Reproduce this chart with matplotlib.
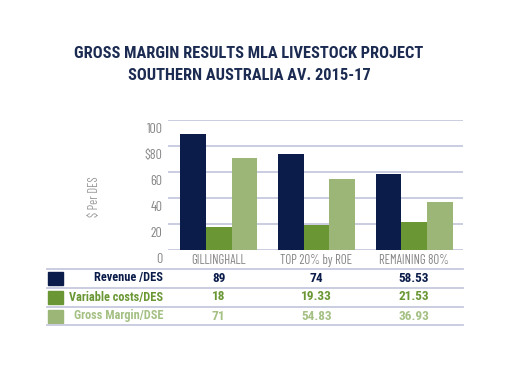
import matplotlib.pyplot as plt
import matplotlib.transforms as mtransforms
import numpy as np

categories = ['GILLINGHALL', 'TOP 20% by ROE', 'REMAINING 80%']
revenue = [89, 74, 58.53]
variable_costs = [18, 19.33, 21.53]
gross_margin = [71, 54.83, 36.93]
revenue_txt = ['89', '74', '58.53']
variable_txt = ['18', '19.33', '21.53']
margin_txt = ['71', '54.83', '36.93']
row_labels = ['Revenue /DES', 'Variable costs/DES', 'Gross Margin/DSE']
y_ticks = [0, 20, 40, 60, 80, 100]
y_ticklabels = ['0', '20', '40', '60', '$80', '100']

navy = '#0b1c4a'
green = '#6a9734'
light = '#9bb676'
light_txt = '#a4c083'
grid_c = '#c6c9dd'
grey = '#858585'
narrow = ['Roboto Condensed', 'Archivo Narrow', 'Barlow Condensed', 'Liberation Sans Narrow', 'DejaVu Sans']
thin = ['Barlow Condensed', 'Roboto Condensed', 'Liberation Sans Narrow', 'DejaVu Sans']

fig = plt.figure(figsize=(5.06, 3.78), dpi=100)
ax = fig.add_axes([0.332, 0.3386, 0.583, 0.344])

x = np.arange(len(categories))
w = 0.262
ax.bar(x - w, revenue, w, color=navy, zorder=3)
ax.bar(x, variable_costs, w, color=green, zorder=3)
ax.bar(x + w, gross_margin, w, color=light, zorder=3)

ax.set_xlim(-0.52, 2.5)
ax.set_ylim(0, 100)
ax.set_yticks(y_ticks)
ax.set_yticklabels(y_ticklabels, family=thin, fontsize=10, fontweight='normal', color=grey)
ax.set_xticks(x)
ax.set_xticklabels(categories, family=thin, fontsize=9.2, fontweight='normal', color=grey)
ax.tick_params(axis='y', length=0, pad=4)
ax.tick_params(axis='x', length=0, pad=3)
for lab in ax.get_yticklabels():
    lab.set_transform(lab.get_transform() + mtransforms.ScaledTranslation(0, -8 / 100, fig.dpi_scale_trans))
for s in ax.spines.values():
    s.set_visible(False)
ax.set_axisbelow(True)
for yv in y_ticks:
    ax.axhline(yv, color=grid_c, lw=1.3, zorder=1)

fig.text(95 / 506, 1 - 197 / 378, '$ Per DES', rotation=90, ha='center', va='center',
         family=thin, fontsize=9, fontweight='normal', color='#9a9a9a')

# title
fig.text(249 / 506, 1 - 54 / 378, 'GROSS MARGIN RESULTS MLA LIVESTOCK PROJECT',
         ha='center', va='center', family=narrow, fontsize=11.8, fontweight='bold', color='#1c2b52')
fig.text(249 / 506, 1 - 75 / 378, 'SOUTHERN AUSTRALIA AV. 2015-17',
         ha='center', va='center', family=narrow, fontsize=11.8, fontweight='bold', color='#1c2b52')

# table below the chart
trans = mtransforms.blended_transform_factory(ax.transData, fig.transFigure)
for yl in [269, 288, 307, 325]:
    fig.add_artist(plt.Line2D([47 / 506, 463 / 506], [1 - yl / 378] * 2, color=grid_c, lw=1.3))

rows = [revenue_txt, variable_txt, margin_txt]
row_colors = [navy, green, light]
text_colors = [navy, green, light_txt]
row_y = [278, 297, 316]
for i in range(3):
    yf = 1 - row_y[i] / 378
    fig.add_artist(plt.Rectangle((48 / 506, yf - 6.5 / 378), 15 / 506, 13 / 378,
                                 color=row_colors[i], transform=fig.transFigure))
    fig.text(163 / 506, yf, row_labels[i], ha='right', va='center', family=narrow,
             fontsize=8.8, fontweight='bold', color=text_colors[i])
    for j in range(3):
        ax.text(x[j], yf, rows[i][j], transform=trans, ha='center', va='center',
                family=narrow, fontsize=9.5, fontweight='bold', color=text_colors[i])

fig.savefig('out.png', dpi=100)
